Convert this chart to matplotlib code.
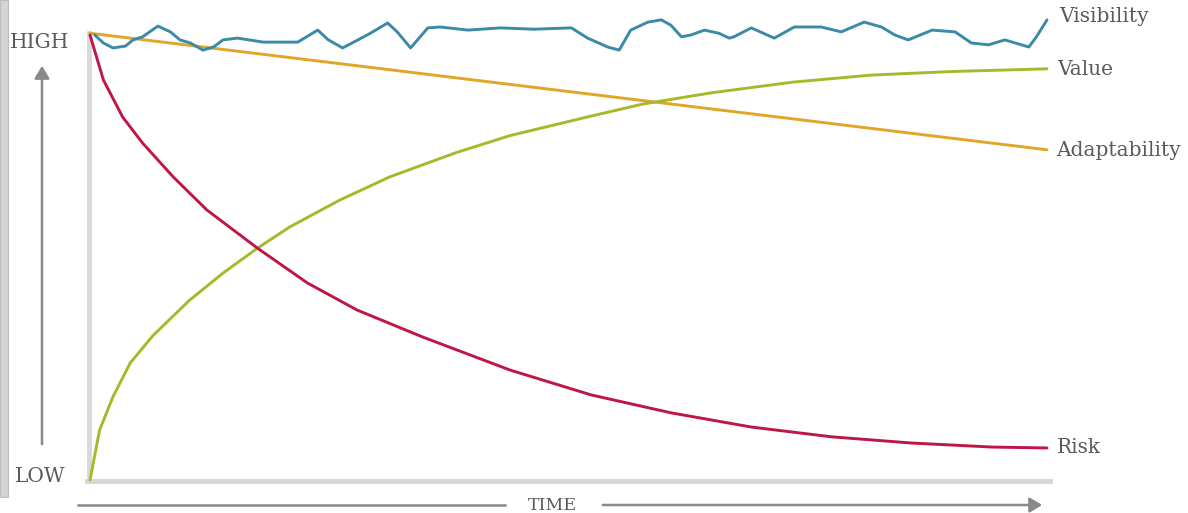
import matplotlib
matplotlib.use("Agg")
import matplotlib.pyplot as plt
from matplotlib.patches import Rectangle, FancyArrowPatch
from matplotlib.lines import Line2D

# ---- data (time 0..100, level 0..100) ----
risk_t = [0, 1.4, 3.4, 5.5, 8.7, 12.2, 17.5, 22.7, 27.9, 34.8, 43.9, 52.4, 60.7, 69.1, 77.5, 85.9, 94.3, 100]
risk_v = [100, 89.9, 81.6, 75.7, 68.1, 60.7, 52.1, 44.3, 38.2, 32.1, 24.7, 19.1, 15.1, 11.9, 9.7, 8.3, 7.4, 7.2]

value_t = [0, 1.0, 2.4, 4.2, 6.6, 10.4, 13.9, 17.5, 20.9, 26.1, 31.3, 38.3, 43.9, 52.4, 57.8, 64.9, 73.4, 81.7, 90.1, 100]
value_v = [0, 11.2, 18.7, 26.3, 32.5, 40.4, 46.5, 52.1, 56.9, 62.9, 68.1, 73.6, 77.4, 81.8, 84.5, 87.0, 89.4, 91.0, 91.8, 92.4]

adapt_t = [0, 100]
adapt_v = [100.4, 74.2]

vis_t = [0.5, 1.4, 2.4, 3.7, 4.5, 5.5, 7.1, 8.4, 9.4, 10.5, 11.8, 12.9, 13.9, 15.4, 18.1, 21.7,
         23.8, 24.9, 26.4, 28.0, 29.3, 31.1, 32.1, 33.5, 35.3, 36.6, 39.5, 42.9, 46.4, 50.3,
         52.0, 54.1, 55.3, 56.5, 58.3, 59.7, 60.7, 61.8, 62.8, 64.2, 65.7, 66.8, 67.3, 69.1,
         71.5, 73.6, 76.4, 78.5, 80.9, 82.7, 84.1, 85.5, 88.0, 90.4, 92.1, 93.9, 95.6, 98.1,
         98.9, 100]
vis_v = [100, 98.2, 97.1, 97.5, 98.9, 99.6, 102.0, 100.7, 98.9, 98.2, 96.6, 97.3, 98.9, 99.3, 98.4, 98.4,
         101.1, 98.9, 97.1, 98.9, 100.4, 102.7, 100.7, 97.1, 101.6, 101.8, 101.1, 101.6, 101.3, 101.6,
         99.3, 97.3, 96.6, 101.1, 102.9, 103.4, 102.2, 99.6, 100.0, 101.1, 100.4, 99.3, 99.6, 101.6,
         99.3, 101.8, 101.8, 100.7, 102.9, 101.8, 100.0, 98.9, 101.1, 100.7, 98.2, 97.8, 98.9, 97.3,
         99.6, 103.4]

series_names = ["Visibility", "Value", "Adaptability", "Risk"]
axis_labels = ["HIGH", "LOW", "TIME"]

W, H = 1188, 513
fig = plt.figure(figsize=(W / 100, H / 100), dpi=100)
fig.patch.set_facecolor("white")

def fx(x):
    return x / W

def fy(y):
    return 1 - y / H

ax = fig.add_axes([fx(90), fy(480), fx(1047) - fx(90), fy(35) - fy(480)])
ax.set_xlim(0, 100)
ax.set_ylim(0, 100)
ax.axis("off")

lw = 2.1
kw = dict(lw=lw, clip_on=False, solid_capstyle="round", solid_joinstyle="round")
ax.plot(adapt_t, adapt_v, color="#e0a52a", **kw)
ax.plot(value_t, value_v, color="#a9b82a", **kw)
ax.plot(risk_t, risk_v, color="#bf1745", **kw)
ax.plot(vis_t, vis_v, color="#3b8aa6", **kw)

# light gray frame lines (axes)
ax.plot([-0.15, -0.15], [-0.3, 100.5], color="#d9d9d9", lw=3.5, clip_on=False, zorder=0)
ax.plot([-0.3, 100.3], [-0.3, -0.3], color="#d6d6d6", lw=3.5, clip_on=False, zorder=0)

# labels at line ends
tfont = dict(family=["DejaVu Serif"], fontsize=14.5, color="#5a5a5a")
ax.text(101.3, 104.2, series_names[0], va="center", ha="left", **tfont)
ax.text(101.1, 92.3, series_names[1], va="center", ha="left", **tfont)
ax.text(101.0, 74.0, series_names[2], va="center", ha="left", **tfont)
ax.text(101.0, 7.2, series_names[3], va="center", ha="left", **tfont)

# left gray strip
fig.patches.append(Rectangle((0, fy(497)), fx(8), fy(0) - fy(497), transform=fig.transFigure,
                             facecolor="#d4d4d4", edgecolor="#bdbdbd", lw=0.8))

# HIGH / LOW
fig.text(fx(40), fy(42), axis_labels[0], ha="center", va="center", **tfont)
fig.text(fx(40), fy(477), axis_labels[1], ha="center", va="center", **tfont)

# vertical arrow
fig.add_artist(FancyArrowPatch((fx(42), fy(447)), (fx(42), fy(63)),
               transform=fig.transFigure, arrowstyle="-|>,head_length=5,head_width=3",
               color="#8a8a8a", lw=1.8, mutation_scale=1.5))

# TIME label and arrow
fig.text(fx(552), fy(505), axis_labels[2], ha="center", va="center",
         family=["DejaVu Serif"], fontsize=12.5, color="#5a5a5a")
fig.add_artist(Line2D([fx(78), fx(505)], [fy(505), fy(505)],
               transform=fig.transFigure, color="#8a8a8a", lw=1.8))
fig.add_artist(FancyArrowPatch((fx(600), fy(505)), (fx(1045), fy(505)),
               transform=fig.transFigure, arrowstyle="-|>,head_length=5,head_width=3",
               color="#8a8a8a", lw=1.8, mutation_scale=1.5))

fig.savefig("out.png", dpi=100, facecolor="white")
